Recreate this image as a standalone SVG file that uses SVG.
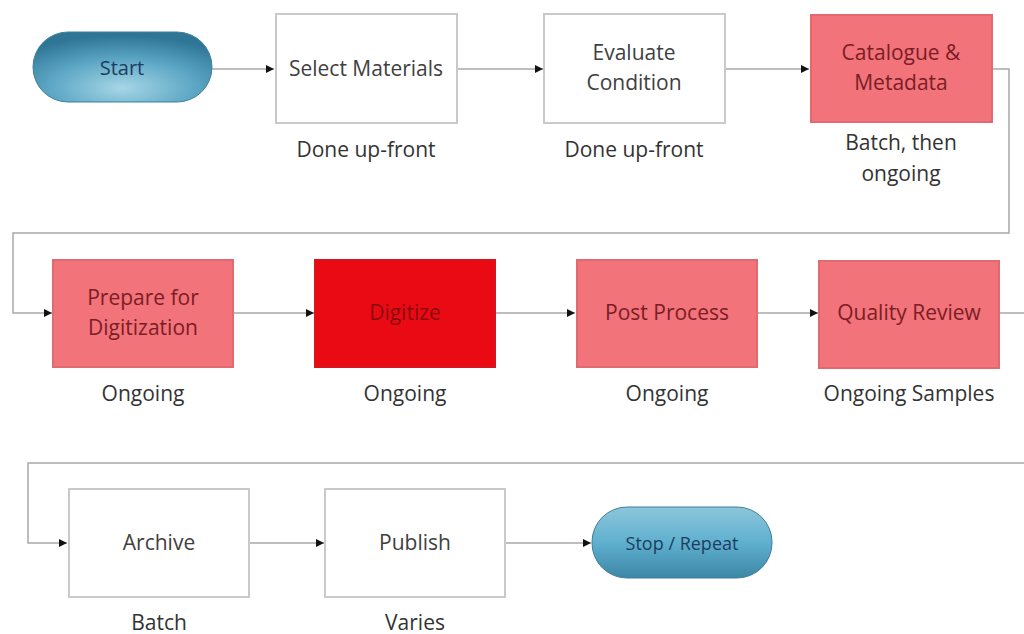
<svg xmlns="http://www.w3.org/2000/svg" width="1024" height="634" viewBox="0 0 1024 634">
<defs>
<radialGradient id="pill" cx="0.5" cy="0.8" r="0.75">
<stop offset="0" stop-color="#a6d6e6"/>
<stop offset="0.55" stop-color="#5ba6c4"/>
<stop offset="1" stop-color="#2f7595"/>
</radialGradient>
<linearGradient id="pill2" x1="0" y1="0" x2="0" y2="1">
<stop offset="0" stop-color="#8cc6da"/>
<stop offset="0.5" stop-color="#5fb0cf"/>
<stop offset="1" stop-color="#3d86a6"/>
</linearGradient>
<marker id="ah" viewBox="0 0 10 10" refX="10" refY="5" markerWidth="8" markerHeight="8" markerUnits="userSpaceOnUse" orient="auto">
<path d="M0,0 L10,5 L0,10 z" fill="#111"/>
</marker>
<style>
.wbox{fill:#fff;stroke:#c9c9c9;stroke-width:2}
.pbox{fill:#f2737a;stroke:#e06a70;stroke-width:2}
.rbox{fill:#ea0a14;stroke:#d9141c;stroke-width:2}
.pl{stroke:#3f7f9c;stroke-width:1}
text{font-family:"Open Sans","Liberation Sans",sans-serif;font-size:21px;text-anchor:middle}
.t{fill:#404040}
.tp{fill:#7a1d25}
.tr{fill:#8a0a10}
.tb{fill:#1c3d5e}
.lb{fill:#333}
.c{fill:none;stroke:#a8a8a8;stroke-width:1.5}
</style>
</defs>
<rect width="1024" height="634" fill="#fff"/>
<g id="connectors">
<path class="c" d="M212,69 H274" marker-end="url(#ah)"/>
<path class="c" d="M457,69 H543" marker-end="url(#ah)"/>
<path class="c" d="M725,69 H809" marker-end="url(#ah)"/>
<path class="c" d="M992,69 H1009 V233 H13 V313 H52" marker-end="url(#ah)"/>
<path class="c" d="M233,313 H314" marker-end="url(#ah)"/>
<path class="c" d="M495,313 H575" marker-end="url(#ah)"/>
<path class="c" d="M757,313 H818" marker-end="url(#ah)"/>
<path class="c" d="M999,313 H1024"/>
<path class="c" d="M1024,463 H28 V543 H67" marker-end="url(#ah)"/>
<path class="c" d="M249,543 H324" marker-end="url(#ah)"/>
<path class="c" d="M505,543 H591" marker-end="url(#ah)"/>
</g>
<g id="start">
<rect class="pl" x="33" y="32" width="179" height="70" rx="35" fill="url(#pill)"/>
<text class="tb" x="122" y="75" style="font-size:20px">Start</text>
</g>
<g id="select">
<rect class="wbox" x="276" y="14" width="181" height="109"/>
<text class="t" x="366" y="76">Select Materials</text>
<text class="lb" x="366" y="157">Done up-front</text>
</g>
<g id="evaluate">
<rect class="wbox" x="544" y="14" width="181" height="109"/>
<text class="t" x="634" y="60">Evaluate</text>
<text class="t" x="634" y="90">Condition</text>
<text class="lb" x="634" y="157">Done up-front</text>
</g>
<g id="catalogue">
<rect class="pbox" x="811" y="15" width="181" height="107"/>
<text class="tp" x="901" y="60">Catalogue &amp;</text>
<text class="tp" x="901" y="90">Metadata</text>
<text class="lb" x="901" y="150">Batch, then</text>
<text class="lb" x="901" y="181">ongoing</text>
</g>
<g id="prepare">
<rect class="pbox" x="53" y="260" width="180" height="107"/>
<text class="tp" x="143" y="305">Prepare for</text>
<text class="tp" x="143" y="335">Digitization</text>
<text class="lb" x="143" y="401">Ongoing</text>
</g>
<g id="digitize">
<rect class="rbox" x="315" y="260" width="180" height="107"/>
<text class="tr" x="405" y="320">Digitize</text>
<text class="lb" x="405" y="401">Ongoing</text>
</g>
<g id="postprocess">
<rect class="pbox" x="577" y="260" width="180" height="107"/>
<text class="tp" x="667" y="320">Post Process</text>
<text class="lb" x="667" y="401">Ongoing</text>
</g>
<g id="quality">
<rect class="pbox" x="819" y="261" width="180" height="107"/>
<text class="tp" x="909" y="320">Quality Review</text>
<text class="lb" x="909" y="401">Ongoing Samples</text>
</g>
<g id="archive">
<rect class="wbox" x="69" y="489" width="180" height="108"/>
<text class="t" x="159" y="550">Archive</text>
<text class="lb" x="159" y="630">Batch</text>
</g>
<g id="publish">
<rect class="wbox" x="325" y="489" width="180" height="108"/>
<text class="t" x="415" y="550">Publish</text>
<text class="lb" x="415" y="630">Varies</text>
</g>
<g id="stop">
<rect class="pl" x="592" y="507" width="180" height="71" rx="35" fill="url(#pill2)"/>
<text class="tb" x="682" y="550" style="font-size:18px">Stop / Repeat</text>
</g>
</svg>
